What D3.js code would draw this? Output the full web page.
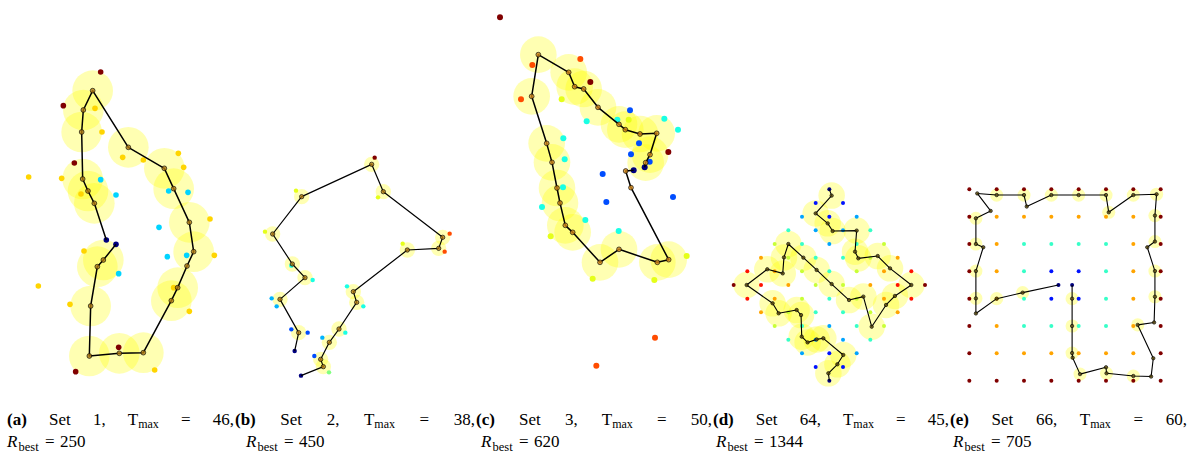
<!DOCTYPE html>
<html>
<head>
<meta charset="utf-8">
<script src="https://cdn.jsdelivr.net/npm/d3@7"></script>
<style>
  body { margin: 0; background: #fff; }
</style>
</head>
<body>
<svg id="fig" width="1195" height="453"></svg>
<script>
// ---- data ----
// panel (a): targets [x, y, score] and tour [x, y, neighbourhood radius]
var ptsA = [[302,36,30],[190,137,30],[285,145,20],[306,216,20],[223,309,30],[86,351,20],[185,355,20],
  [302,359,10],[243,402,20],[348,405,10],[535,280,20],[551,322,20],[430,300,20],[368,292,20],[506,393,10],
  [564,397,10],[477,502,10],[630,477,20],[319,540,0],[348,553,0],[252,573,20],[502,590,10],[560,586,10],
  [643,586,20],[356,641,10],[115,678,20],[210,733,20],[521,683,20],[568,754,20],[356,862,30],[227,935,30],
  [464,930,20]];
var pathA = [[319,540,0],[283,430,61],[264,393,61],[248,357,61],[245,216,61],[250,150,61],[278,92,61],
  [385,262,61],[493,325,61],[521,386,61],[568,487,61],[581,575,61],[561,618,0],[533,683,61],[514,722,61],
  [430,878,61],[358,880,61],[268,888,61],[272,738,61],[292,620,61],[310,600,61],[348,553,0]];

// panel (b)
var ptsB = [[404,53,50],[168,152,30],[414,172,30],[75,275,30],[629,281,40],[614,335,40],[488,311,30],
  [154,377,20],[218,420,20],[321,439,20],[95,475,15],[110,499,15],[370,499,20],[154,568,10],[203,578,10],
  [316,578,20],[247,593,15],[223,648,10],[164,633,0],[183,707,0],[267,697,25]];
var pathB = [[164,633,0],[176,578,23],[120,478,23],[195,413,23],[157,372,23],[98,282,23],[185,170,23],
  [395,73,23],[430,155,23],[608,292,23],[596,325,23],[502,330,23],[340,455,23],[350,487,23],[297,567,23],
  [268,607,23],[242,658,23],[250,680,23],[183,707,0]];

// panel (c)
var ptsC = [[60,52,50],[157,195,40],[301,177,40],[331,246,50],[123,298,40],[245,298,30],[450,331,10],
  [320,364,20],[412,359,20],[446,359,30],[553,356,20],[594,389,20],[250,415,20],[477,430,10],[453,463,10],
  [565,456,50],[509,485,10],[494,502,0],[461,511,0],[254,478,20],[368,522,10],[249,562,20],[186,621,20],
  [379,606,10],[579,591,10],[316,660,20],[416,693,20],[212,709,30],[620,768,30],[338,836,30],[523,840,30],
  [525,1013,40],[349,1097,40]];
var pathC = [[461,511,0],[437,513,0],[453,563,0],[566,779,55],[532,787,55],[417,748,55],[360,787,55],
  [278,697,55],[256,676,55],[240,609,55],[231,564,55],[216,487,55],[200,430,55],[155,289,55],[175,164,55],
  [266,217,55],[284,260,55],[311,267,55],[354,322,55],[417,373,55],[436,389,55],[480,402,55],[530,400,55],
  [510,464,55],[497,488,55],[494,502,0]];

// panel (d): diamond lattice, rows -7..7, columns -7..7, digit = score level
var gridD = [".......0.......", "......1.1......", ".....2.1.2.....", "....3.2.2.3....",
  "...4.3.2.3.4...", "..5.4.3.3.4.5..", ".6.5.4.3.4.5.6.", "7.6.5.4.4.5.6.7",
  ".6.5.4.3.4.5.6.", "..5.4.3.3.4.5..", "...4.3.2.3.4...", "....3.2.2.3....",
  ".....2.1.2.....", "......1.1......", ".......0......."];
var pathD = [[0,-7,0],[0.17,-6.54,0.97],[-1.0,-5.24,0.97],[-0.12,-4.51,0.97],[0.24,-3.95,0.97],
  [2.0,-3.98,0.97],[1.88,-2.44,0.97],[2.12,-1.95,0.97],[3.54,-2.12,0.97],[4.44,-1.22,0.97],[6.0,0,0.97],
  [4.8,0.8,0.97],[4.15,1.46,0.97],[3.1,3.05,0.97],[2.49,0.85,0.97],[1.44,1.1,0.97],[0.17,-0.07,0.97],
  [-0.93,-1.1,0.97],[-1.9,-2.0,0.97],[-3.0,-3.0,0.97],[-3.32,-2.02,0.97],[-3.41,-0.85,0.97],
  [-4.54,-1.15,0.97],[-6.05,0,0.97],[-4.15,1.34,0.97],[-3.71,2.07,0.97],[-2.39,1.83,0.97],
  [-2.07,2.2,0.97],[-2.02,3.78,0.97],[-1.59,4.2,0.97],[-0.93,3.98,0.97],[-0.44,3.9,0.97],
  [1.02,5.12,0.97],[0.59,5.8,0.97],[-0.07,6.46,0.97],[0,7,0]];

// panel (e): square grid 8x8 of scores, plus start / end
var gridE = [[35,35,35,35,35,35,35,35],[35,25,25,25,25,25,25,35],[35,25,15,15,15,15,25,35],
  [35,25,15,5,5,15,25,35],[35,25,15,5,5,15,25,35],[35,25,15,15,15,15,25,35],
  [35,25,25,25,25,25,25,35],[35,35,35,35,35,35,35,35]];
var depotsE = [[3.26,3.5,0],[3.76,3.5,0]];
var pathE = [[3.26,3.5,0],[1.95,3.78,0.24],[1.0,4.0,0.24],[0.24,4.54,0],[0.24,3.99,0.24],[0.24,2.99,0.24],
  [0.51,2.12,0],[0.24,2.0,0.24],[0.24,1.06,0.24],[0.78,0.79,0],[0.29,0.15,0],[1.0,0.21,0.24],
  [2.0,0.21,0.24],[2.1,0.63,0],[3.0,0.21,0.24],[4.0,0.21,0.24],[5.0,0.21,0.24],[5.1,0.84,0.24],
  [6.0,0.21,0.24],[6.85,0.18,0.24],[6.79,0.96,0.24],[6.79,1.91,0.24],[6.51,2.12,0],[6.79,2.99,0.24],
  [6.79,3.93,0.24],[6.76,4.87,0],[6.16,4.96,0.24],[6.73,6.18,0],[6.65,6.85,0],[6.0,6.83,0.24],
  [5.02,6.73,0.24],[5.0,6.51,0],[4.05,6.76,0.24],[3.78,6.16,0],[3.76,5.99,0.24],[3.76,5.0,0.24],
  [3.76,4.0,0.24],[3.76,3.5,0]];

// captions
var capLabels = ["(a)", "(b)", "(c)", "(d)", "(e)"];
var capSets = [1, 2, 3, 64, 66];
var capTmax = [46, 38, 50, 45, 60];
var capRbest = [250, 450, 620, 1344, 705];

// ---- drawing ----
var svg = d3.select("#fig");

// matplotlib-like jet colormap
var jet = d3.scaleLinear()
  .domain([0, 0.125, 0.375, 0.625, 0.875, 1])
  .range(["#000080", "#0000ff", "#00ffff", "#ffff00", "#ff0000", "#800000"])
  .interpolate(d3.interpolateRgb);

// lattice targets for (d) and (e)
var ptsD = [];
gridD.forEach(function(row, j) {
  row.split("").forEach(function(ch, i) { if (ch !== ".") ptsD.push([i - 7, j - 7, +ch]); });
});
var ptsE = depotsE.slice();
gridE.forEach(function(row, j) { row.forEach(function(s, i) { ptsE.push([i, j, s]); }); });

var panels = [
  {pts: ptsA, path: pathA, smax: 30, xd: [0, 720], yd: [0, 960], xr: [0, 240], yr: [60, 380], pr: 2.8, vr: 2.4, lw: 1.5, wf: "#b07a12"},
  {pts: ptsB, path: pathB, smax: 50, xd: [0, 690], yd: [0, 720], xr: [240, 470], yr: [140, 380], pr: 2.2, vr: 2.2, lw: 1.2, wf: "#b07a12"},
  {pts: ptsC, path: pathC, smax: 50, xd: [0, 690], yd: [0, 1140], xr: [480, 710], yr: [0, 380], pr: 3.0, vr: 2.4, lw: 1.5, wf: "#d08418"},
  {pts: ptsD, path: pathD, smax: 7, xd: [-7, 7], yd: [-7, 7], xr: [733.67, 925], yr: [189.33, 380.67], pr: 2.0, vr: 1.7, lw: 1.1, wf: "#5e4c0c"},
  {pts: ptsE, path: pathE, smax: 35, xd: [0, 7], yd: [0, 7], xr: [969.33, 1160.67], yr: [189.33, 380.67], pr: 2.0, vr: 1.7, lw: 1.1, wf: "#5e4c0c"}
];

panels.forEach(function(p) {
  var x = d3.scaleLinear().domain(p.xd).range(p.xr);
  var y = d3.scaleLinear().domain(p.yd).range(p.yr);
  var k = x(1) - x(0);
  var g = svg.append("g");

  // neighbourhood discs
  g.selectAll("circle.zone")
    .data(p.path.filter(function(d) { return d[2] > 0; }))
    .enter().append("circle").attr("class", "zone")
    .attr("cx", function(d) { return x(d[0]); })
    .attr("cy", function(d) { return y(d[1]); })
    .attr("r", function(d) { return d[2] * k; })
    .attr("fill", "#ffff00").attr("fill-opacity", 0.3);

  // targets coloured by score
  g.selectAll("circle.pt")
    .data(p.pts).enter().append("circle").attr("class", "pt")
    .attr("cx", function(d) { return x(d[0]); })
    .attr("cy", function(d) { return y(d[1]); })
    .attr("r", p.pr)
    .attr("fill", function(d) { return jet(d[2] / p.smax); });

  // tour
  g.append("path").datum(p.path)
    .attr("d", d3.line().x(function(d) { return x(d[0]); }).y(function(d) { return y(d[1]); }))
    .attr("fill", "none").attr("stroke", "#000").attr("stroke-width", p.lw)
    .attr("stroke-linejoin", "round");

  // waypoints
  g.selectAll("circle.wp")
    .data(p.path.slice(1, -1)).enter().append("circle").attr("class", "wp")
    .attr("cx", function(d) { return x(d[0]); })
    .attr("cy", function(d) { return y(d[1]); })
    .attr("r", p.vr)
    .attr("fill", p.wf).attr("fill-opacity", 0.8)
    .attr("stroke", "#000").attr("stroke-opacity", 0.7).attr("stroke-width", 0.9);
});

// captions (justified first line, LaTeX-like)
var line1 = [[7, 234], [235, 475], [476, 712], [713, 949], [950, 1187]];
var line2X = [7, 246, 481, 716, 953];
var cap = svg.append("g").attr("font-family", "'Liberation Serif', 'Times New Roman', serif")
  .attr("font-size", 17).attr("fill", "#000");

capLabels.forEach(function(lab, i) {
  var words = [];
  words.push(cap.append("text").attr("y", 424.5).attr("font-weight", "bold").text(lab));
  words.push(cap.append("text").attr("y", 424.5).text("Set"));
  words.push(cap.append("text").attr("y", 424.5).text(capSets[i] + ","));
  var tw = cap.append("text").attr("y", 424.5);
  tw.append("tspan").text("T");
  tw.append("tspan").attr("font-size", 12).attr("dy", 3).text("max");
  words.push(tw);
  words.push(cap.append("text").attr("y", 424.5).text("="));
  words.push(cap.append("text").attr("y", 424.5).text(capTmax[i] + ","));

  var widths = words.map(function(w) { return w.node().getComputedTextLength(); });
  var total = d3.sum(widths);
  var gap = (line1[i][1] - line1[i][0] - total) / (words.length - 1);
  var cx = line1[i][0];
  words.forEach(function(w, n) { w.attr("x", cx); cx += widths[n] + gap; });

  var x0 = line2X[i];
  cap.append("text").attr("x", x0).attr("y", 447).attr("font-style", "italic").text("R");
  cap.append("text").attr("x", x0 + 11.5).attr("y", 450.5).attr("font-size", 12.5).text("best");
  cap.append("text").attr("x", x0 + 38).attr("y", 447).text("=");
  cap.append("text").attr("x", x0 + 53).attr("y", 447).text(capRbest[i]);
});
</script>
</body>
</html>
